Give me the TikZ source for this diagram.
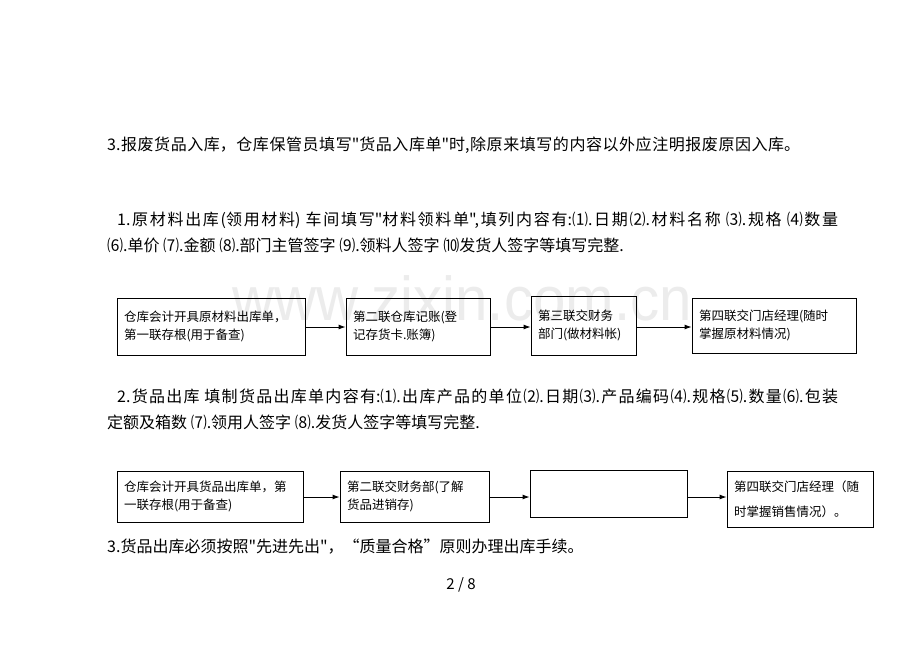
\documentclass[tikz,border=0pt]{standalone}
\usepackage{fontspec}
\newfontfamily\songti{Noto Sans CJK SC}
\newfontfamily\markfont{Liberation Sans}
\XeTeXlinebreaklocale "zh"
\XeTeXlinebreakskip=0pt plus 2pt
\newcommand\fullline[2]{\parbox{#1}{\parfillskip=0pt\relax #2}}
\usetikzlibrary{arrows.meta}
\begin{document}
\begin{tikzpicture}[x=1pt,y=-1pt,
    flowbox/.style={draw=black, line width=0.9pt, inner xsep=7pt, inner ysep=3pt, align=left, font=\songti\fontsize{12.5}{18}\selectfont},
    flowarrow/.style={-{Latex[length=7pt,width=5pt]}, line width=0.9pt},
    bodytext/.style={anchor=west, inner sep=0pt, font=\songti\fontsize{16}{18}\selectfont}]
\useasboundingbox[fill=white] (0,0) rectangle (920,651);
\node[anchor=base west, inner sep=0pt, text=gray!15, font=\markfont\fontsize{62}{62}\selectfont, xscale=0.94] (mark) at (232,320) {www.zixin.com.cn};

\node[bodytext] (scrap) at (107,145) {\fullline{693pt}{3.报废货品入库，仓库保管员填写"货品入库单"时,除原来填写的内容以外应注明报废原因入库。}};
\node[bodytext] (raw1) at (117,220) {\fullline{721pt}{1.原材料出库(领用材料) 车间填写"材料领料单",填列内容有:⑴.日期⑵.材料名称 ⑶.规格 ⑷数量}};
\node[bodytext] (raw2) at (107,245) {⑹.单价 ⑺.金额 ⑻.部门主管签字 ⑼.领料人签字 ⑽发货人签字等填写完整.};

\node[flowbox, text width=174pt, minimum height=57pt] (raw-a) at (211,326.5) {仓库会计开具原材料出库单，\\第一联存根(用于备查)};
\node[flowbox, text width=130pt, minimum height=57pt] (raw-b) at (418,326.5) {第二联仓库记账(登\\记存货卡.账簿)};
\node[flowbox, text width=91pt, minimum height=59pt] (raw-c) at (583.5,325.5) {第三联交财务\\部门(做材料帐)};
\node[flowbox, text width=150pt, minimum height=55pt] (raw-d) at (774,325.5) {第四联交门店经理(随时\\掌握原材料情况)};
\draw[flowarrow] (raw-a.east |- 0,327) -- (raw-b.west |- 0,327);
\draw[flowarrow] (raw-b.east |- 0,327) -- (raw-c.west |- 0,327);
\draw[flowarrow] (raw-c.east |- 0,327) -- (raw-d.west |- 0,327);

\node[bodytext] (goods1) at (117,396) {\fullline{721pt}{2.货品出库 填制货品出库单内容有:⑴.出库产品的单位⑵.日期⑶.产品编码⑷.规格⑸.数量⑹.包装}};
\node[bodytext] (goods2) at (107,422) {定额及箱数 ⑺.领用人签字 ⑻.发货人签字等填写完整.};

\node[flowbox, text width=172pt, minimum height=51pt] (goods-a) at (210,496.5) {仓库会计开具货品出库单，第\\一联存根(用于备查)};
\node[flowbox, text width=135pt, minimum height=51pt] (goods-b) at (414.5,496.5) {第二联交财务部(了解\\货品进销存)};
\node[flowbox, text width=143pt, minimum height=47pt] (goods-c) at (608.5,493.5) {};
\node[flowbox, text width=132pt, minimum height=56pt, font=\songti\fontsize{12.5}{25}\selectfont] (goods-d) at (800,499) {第四联交门店经理（随\\时掌握销售情况）。};
\draw[flowarrow] (goods-a.east |- 0,497) -- (goods-b.west |- 0,497);
\draw[flowarrow] (goods-b.east |- 0,497) -- (goods-c.west |- 0,497);
\draw[flowarrow] (goods-c.east |- 0,497) -- (goods-d.west |- 0,497);

\node[bodytext] (fifo) at (107,547) {3.货品出库必须按照"先进先出"，“质量合格”原则办理出库手续。};
\node[font=\songti\fontsize{15}{18}\selectfont, inner sep=0pt] (page) at (461,585) {2 / 8};
\end{tikzpicture}
\end{document}
